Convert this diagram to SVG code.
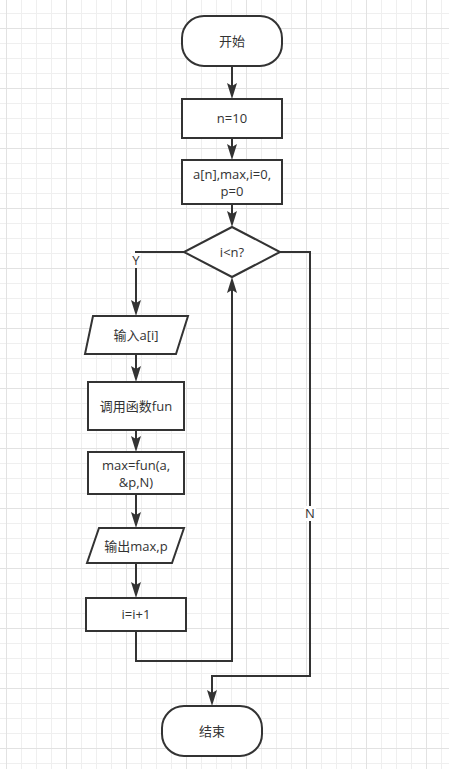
<svg xmlns="http://www.w3.org/2000/svg" width="449" height="769" viewBox="0 0 449 769">
<style>
.s{fill:#fff;stroke:#333;stroke-width:2}
.c{fill:none;stroke:#333;stroke-width:2;marker-end:url(#a)}
text{font-family:"Open Sans","Noto Sans CJK SC",sans-serif;font-size:13px;fill:#333;text-anchor:middle}
.lb{fill:#fff;stroke:none}
</style>
<defs>
<pattern id="g1" x="6" y="13" width="15" height="15" patternUnits="userSpaceOnUse">
<path d="M0.5,0 V15 M0,0.5 H15" stroke="#efefef" stroke-width="1" fill="none"/>
</pattern>
<pattern id="g2" x="6" y="28" width="60" height="60" patternUnits="userSpaceOnUse">
<path d="M0.5,0 V60 M0,0.5 H60" stroke="#e2e2e2" stroke-width="1" fill="none"/>
</pattern>
<marker id="a" viewBox="0 0 16 10" refX="3" refY="5" markerWidth="16" markerHeight="10" markerUnits="userSpaceOnUse" orient="auto">
<path d="M0,0 L16,5 L0,10 L3,5 Z" fill="#333"/>
</marker>
</defs>
<rect width="449" height="769" fill="#fff"/>
<rect width="449" height="769" fill="url(#g1)"/>
<rect width="449" height="769" fill="url(#g2)"/>

<g id="connectors">
<path class="c" d="M232,66 V86"/>
<path class="c" d="M232,139 V147"/>
<path class="c" d="M232,204 V214"/>
<path class="c" d="M184,252 H136 V303"/>
<path class="c" d="M136,354 V369"/>
<path class="c" d="M136,430 V439"/>
<path class="c" d="M136,494 V515"/>
<path class="c" d="M136,563 V585"/>
<path class="c" d="M136,631 V661 H232 V290"/>
<path class="c" d="M280,252 H310 V676 H212 V693"/>
<g id="label-y"><rect class="lb" x="131" y="253" width="10" height="15"/><text x="136" y="265">Y</text></g>
<g id="label-n"><rect class="lb" x="304" y="506" width="12" height="15"/><text x="310" y="518">N</text></g>
</g>

<g id="start"><rect class="s" x="182" y="16" width="100" height="50" rx="22"/><text x="232" y="46">开始</text></g>
<g id="n10"><rect class="s" x="182" y="99" width="100" height="39"/><text x="232" y="123">n=10</text></g>
<g id="init"><rect class="s" x="182" y="160" width="100" height="44"/><text x="232" y="179">a[n],max,i=0,</text><text x="232" y="196">p=0</text></g>
<g id="cond"><polygon class="s" points="232,227 280,252 232,277 184,252"/><text x="232" y="257">i&lt;n?</text></g>
<g id="input"><polygon class="s" points="93,316 188,316 176,354 85,354"/><text x="136" y="340">输入a[i]</text></g>
<g id="call"><rect class="s" x="88" y="382" width="96" height="48"/><text x="136" y="411">调用函数fun</text></g>
<g id="assign"><rect class="s" x="88" y="452" width="96" height="42"/><text x="136" y="470">max=fun(a,</text><text x="136" y="487">&amp;p,N)</text></g>
<g id="output"><polygon class="s" points="99,528 184,528 172,563 87,563"/><text x="136" y="551">输出max,p</text></g>
<g id="inc"><rect class="s" x="86" y="598" width="100" height="33"/><text x="136" y="619">i=i+1</text></g>
<g id="end"><rect class="s" x="162" y="706" width="100" height="50" rx="22"/><text x="212" y="736">结束</text></g>
</svg>
